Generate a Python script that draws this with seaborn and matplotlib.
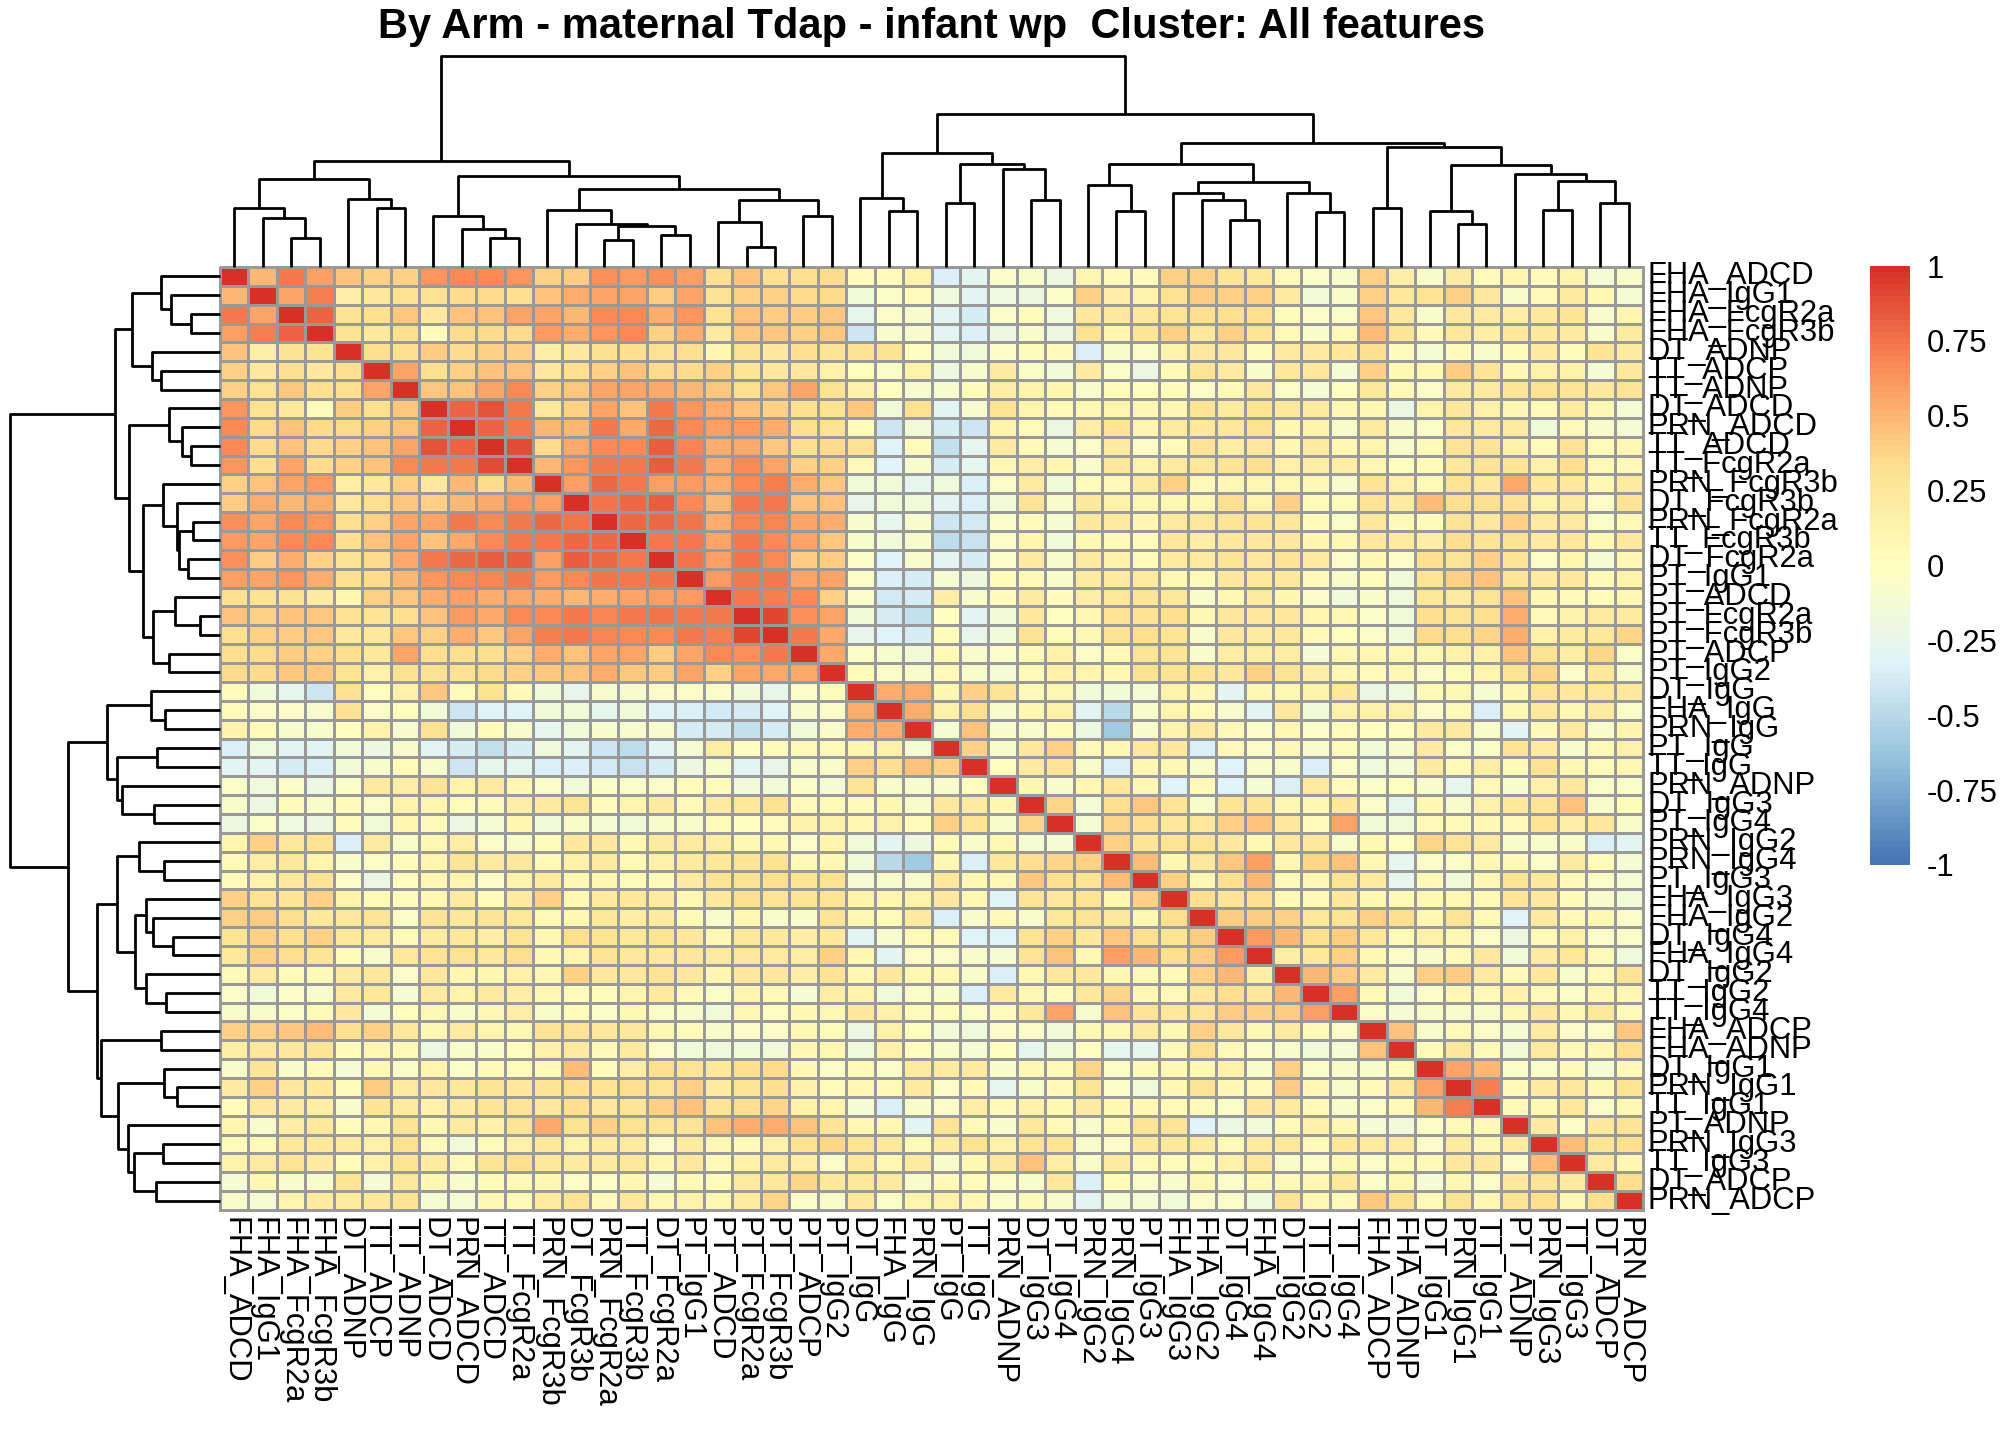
import numpy as np
import pandas as pd
import matplotlib
matplotlib.use('Agg')
import matplotlib.pyplot as plt
import seaborn as sns
from matplotlib.colors import LinearSegmentedColormap

# Features in clustered order (rows and columns share the same order)
features = ['FHA_ADCD', 'FHA_IgG1', 'FHA_FcgR2a', 'FHA_FcgR3b', 'DT_ADNP', 'TT_ADCP', 'TT_ADNP',
            'DT_ADCD', 'PRN_ADCD', 'TT_ADCD', 'TT_FcgR2a', 'PRN_FcgR3b', 'DT_FcgR3b', 'PRN_FcgR2a',
            'TT_FcgR3b', 'DT_FcgR2a', 'PT_IgG1', 'PT_ADCD', 'PT_FcgR2a', 'PT_FcgR3b', 'PT_ADCP',
            'PT_IgG2', 'DT_IgG', 'FHA_IgG', 'PRN_IgG', 'PT_IgG', 'TT_IgG', 'PRN_ADNP', 'DT_IgG3',
            'PT_IgG4', 'PRN_IgG2', 'PRN_IgG4', 'PT_IgG3', 'FHA_IgG3', 'FHA_IgG2', 'DT_IgG4',
            'FHA_IgG4', 'DT_IgG2', 'TT_IgG2', 'TT_IgG4', 'FHA_ADCP', 'FHA_ADNP', 'DT_IgG1',
            'PRN_IgG1', 'TT_IgG1', 'PT_ADNP', 'PRN_IgG3', 'TT_IgG3', 'DT_ADCP', 'PRN_ADCP']

# Lower triangle of the correlation matrix (row i holds columns 1..i-1)
corr_lower = [
    [0.48],
    [0.72, 0.57],
    [0.58, 0.70, 0.82],
    [0.45, 0.18, 0.30, 0.30],
    [0.38, 0.22, 0.32, 0.22, 0.32],
    [0.38, 0.30, 0.42, 0.32, 0.32, 0.57],
    [0.62, 0.30, 0.22, 0.02, 0.40, 0.32, 0.42],
    [0.66, 0.34, 0.45, 0.34, 0.34, 0.38, 0.45, 0.80],
    [0.66, 0.34, 0.45, 0.34, 0.38, 0.45, 0.57, 0.86, 0.80],
    [0.62, 0.32, 0.57, 0.35, 0.38, 0.45, 0.66, 0.72, 0.72, 0.88],
    [0.38, 0.45, 0.56, 0.60, 0.18, 0.22, 0.38, 0.22, 0.48, 0.35, 0.48],
    [0.40, 0.53, 0.48, 0.53, 0.22, 0.32, 0.42, 0.38, 0.48, 0.55, 0.62, 0.58],
    [0.64, 0.57, 0.66, 0.62, 0.32, 0.38, 0.57, 0.57, 0.72, 0.66, 0.72, 0.79, 0.75],
    [0.60, 0.57, 0.66, 0.66, 0.32, 0.45, 0.57, 0.45, 0.55, 0.66, 0.72, 0.72, 0.79, 0.79],
    [0.64, 0.40, 0.53, 0.38, 0.30, 0.35, 0.55, 0.72, 0.79, 0.83, 0.83, 0.58, 0.83, 0.79, 0.72],
    [0.58, 0.56, 0.62, 0.53, 0.32, 0.35, 0.48, 0.63, 0.66, 0.68, 0.72, 0.60, 0.66, 0.74, 0.72, 0.74],
    [0.32, 0.30, 0.30, 0.20, 0.08, 0.38, 0.42, 0.53, 0.58, 0.53, 0.55, 0.53, 0.48, 0.53, 0.56, 0.58, 0.60],
    [0.45, 0.38, 0.45, 0.42, 0.30, 0.28, 0.32, 0.45, 0.60, 0.55, 0.66, 0.66, 0.72, 0.68, 0.72, 0.74, 0.72,
     0.72],
    [0.33, 0.38, 0.40, 0.42, 0.22, 0.22, 0.42, 0.38, 0.53, 0.42, 0.56, 0.70, 0.72, 0.68, 0.66, 0.66, 0.72,
     0.70, 0.90],
    [0.33, 0.35, 0.40, 0.38, 0.33, 0.22, 0.57, 0.33, 0.33, 0.33, 0.38, 0.53, 0.45, 0.57, 0.57, 0.40, 0.57,
     0.66, 0.64, 0.72],
    [0.35, 0.35, 0.42, 0.42, 0.28, 0.15, 0.30, 0.30, 0.30, 0.35, 0.38, 0.42, 0.45, 0.53, 0.42, 0.40, 0.57,
     0.38, 0.56, 0.55, 0.55],
    [0.02, -0.15, -0.28, -0.42, 0.30, 0.00, 0.15, 0.42, 0.03, 0.30, 0.05, -0.15, -0.25, -0.10, -0.10, -0.05,
     -0.05, -0.05, -0.15, -0.25, -0.05, 0.02],
    [0.02, -0.05, -0.05, -0.10, 0.30, -0.05, 0.00, -0.15, -0.42, -0.33, -0.33, -0.15, -0.15, -0.28, -0.15,
     -0.33, -0.36, -0.40, -0.38, -0.33, -0.10, -0.05, 0.53],
    [0.12, 0.02, -0.10, -0.10, 0.00, 0.12, -0.10, 0.30, -0.15, 0.02, -0.10, -0.28, -0.15, -0.10, -0.10,
     -0.10, -0.38, -0.38, -0.45, -0.38, -0.15, -0.08, 0.53, 0.53],
    [-0.35, -0.18, -0.30, -0.30, -0.15, -0.20, -0.10, -0.30, -0.38, -0.45, -0.38, -0.18, -0.30, -0.42, -0.48,
     -0.30, -0.12, 0.18, 0.00, 0.02, 0.04, 0.05, 0.08, 0.15, -0.12],
    [-0.30, -0.30, -0.38, -0.36, -0.15, -0.10, 0.02, -0.10, -0.42, -0.27, -0.27, -0.36, -0.36, -0.40, -0.44,
     -0.38, -0.20, -0.08, -0.30, -0.25, -0.08, -0.08, 0.38, 0.33, 0.45,
     0.38],
    [-0.05, -0.18, -0.05, -0.22, -0.05, 0.20, 0.18, 0.28, 0.12, 0.20, 0.06, -0.05, -0.15, -0.05, -0.05,
     -0.05, 0.02, 0.02, -0.15, -0.15, -0.05, -0.12, 0.28, -0.08, -0.10,
     -0.08, 0.00],
    [-0.08, -0.22, 0.02, -0.08, 0.02, -0.05, 0.12, 0.10, 0.03, 0.05, 0.18, 0.20, 0.28, 0.02, 0.10,
     0.20, 0.05, 0.20, 0.25, 0.30, 0.05, 0.05, 0.05, 0.08, -0.08,
     0.22, 0.20, 0.08],
    [-0.22, -0.05, -0.18, -0.22, 0.02, -0.15, 0.08, 0.05, -0.22, -0.12, 0.08, -0.15, -0.08, -0.12, -0.15,
     -0.08, -0.08, 0.02, 0.00, 0.02, 0.15, 0.15, 0.06, 0.15, 0.03,
     0.38, 0.28, -0.08, 0.36],
    [0.10, 0.38, 0.25, 0.30, -0.36, 0.20, -0.08, 0.06, 0.18, -0.05, -0.08, 0.03, 0.22, 0.22, 0.06,
     0.20, 0.20, 0.18, 0.06, 0.06, -0.05, 0.10, -0.15, -0.30, -0.20,
     0.04, -0.08, 0.06, -0.12, -0.12],
    [0.05, 0.18, 0.22, 0.10, -0.08, -0.05, 0.02, 0.10, 0.28, 0.20, 0.25, 0.05, 0.15, 0.20, 0.05,
     0.15, 0.20, 0.25, 0.28, 0.30, 0.05, 0.06, -0.15, -0.50, -0.60,
     0.06, -0.36, 0.25, 0.32, 0.36, 0.38],
    [0.03, 0.12, 0.22, 0.28, -0.05, -0.22, 0.00, 0.06, 0.10, -0.05, 0.12, 0.20, 0.06, 0.08, 0.03,
     0.02, 0.20, 0.28, 0.30, 0.32, 0.28, 0.30, -0.12, -0.08, -0.08,
     0.25, 0.06, 0.06, 0.42, 0.32, 0.28, 0.46],
    [0.38, 0.30, 0.28, 0.38, 0.12, 0.05, 0.02, 0.06, 0.20, 0.03, 0.20, 0.38, 0.06, 0.20, 0.25,
     0.20, 0.06, 0.25, 0.32, 0.28, 0.28, 0.28, 0.12, 0.10, 0.12,
     0.22, 0.06, -0.33, 0.28, 0.22, 0.28, 0.08, 0.38],
    [0.38, 0.40, 0.32, 0.25, 0.22, 0.28, -0.05, 0.28, 0.25, 0.28, 0.25, 0.05, 0.06, 0.25, 0.18,
     0.20, 0.05, -0.08, 0.06, -0.08, -0.08, 0.28, 0.06, 0.03, 0.20,
     -0.36, -0.08, 0.05, -0.08, 0.25, 0.28, 0.22, 0.06, 0.32],
    [0.28, 0.38, 0.32, 0.38, 0.22, 0.20, 0.05, 0.20, 0.25, 0.18, 0.28, 0.06, 0.32, 0.28, 0.25,
     0.28, 0.22, 0.06, 0.22, 0.22, 0.18, 0.22, -0.30, -0.10, 0.05,
     0.05, -0.33, -0.33, 0.28, 0.38, 0.22, 0.42, 0.32, 0.28, 0.40],
    [0.25, 0.38, 0.32, 0.28, 0.02, -0.08, 0.22, 0.28, 0.30, 0.22, 0.32, 0.06, 0.10, 0.28, 0.22,
     0.22, 0.25, 0.20, 0.22, 0.20, 0.18, 0.38, 0.06, -0.30, -0.05,
     -0.05, -0.08, -0.12, 0.28, 0.45, 0.06, 0.58, 0.48, 0.32, 0.40, 0.60],
    [0.05, 0.20, 0.03, 0.05, 0.20, 0.25, -0.05, 0.25, 0.08, 0.08, 0.15, 0.06, 0.38, 0.25, 0.22,
     0.28, 0.22, 0.08, 0.25, 0.25, 0.18, 0.28, 0.06, 0.22, 0.06,
     0.06, -0.08, -0.36, 0.06, 0.22, 0.22, 0.06, 0.05, 0.05, 0.38, 0.48, 0.18],
    [-0.05, -0.15, -0.05, -0.08, 0.20, 0.25, -0.12, 0.20, 0.12, 0.20, 0.18, 0.06, 0.02, 0.03, 0.10,
     0.20, 0.05, -0.05, 0.10, 0.05, -0.12, 0.18, 0.12, -0.15, -0.05,
     -0.08, -0.36, 0.20, 0.06, 0.03, 0.25, 0.36, 0.06, 0.05, 0.25, 0.32, 0.25, 0.48],
    [-0.08, -0.08, -0.05, 0.05, 0.25, -0.12, 0.00, 0.06, -0.08, 0.06, 0.18, -0.08, 0.03, -0.05, 0.06,
     -0.05, -0.08, -0.15, 0.06, 0.00, 0.06, 0.06, 0.25, 0.15, 0.03,
     0.03, -0.05, 0.03, 0.25, 0.56, -0.08, 0.45, 0.28, 0.25, 0.28, 0.40, 0.38, 0.40, 0.58],
    [0.38, 0.38, 0.42, 0.46, 0.32, 0.38, 0.25, 0.06, 0.20, 0.10, 0.06, 0.28, 0.28, 0.25, 0.22,
     0.06, 0.02, -0.08, -0.05, -0.05, 0.06, 0.03, -0.22, 0.15, 0.00,
     -0.15, -0.18, -0.05, -0.05, -0.15, 0.06, 0.06, 0.20, 0.06, 0.38, 0.25, 0.06, 0.20, 0.05, -0.05],
    [0.18, 0.25, 0.22, 0.28, 0.03, 0.06, 0.04, -0.22, -0.08, -0.08, 0.00, 0.15, 0.20, 0.04, 0.20,
     -0.05, -0.15, -0.18, -0.15, -0.15, 0.06, 0.06, -0.18, 0.15, 0.00,
     -0.08, -0.12, 0.00, -0.28, -0.15, 0.00, -0.28, -0.28, 0.05, 0.32, 0.04, -0.05, -0.08, -0.15, -0.12,
     0.45],
    [-0.08, 0.28, -0.08, 0.04, -0.12, 0.06, -0.05, 0.10, -0.05, 0.05, 0.02, 0.05, 0.47, 0.03, 0.18,
     0.32, 0.28, 0.25, 0.32, 0.35, 0.06, -0.05, 0.05, -0.05, 0.20,
     0.20, 0.20, -0.08, 0.06, 0.05, 0.36, -0.05, 0.05, 0.06, 0.06, 0.15, -0.08, 0.38, -0.05, -0.08,
     -0.08, 0.02],
    [0.20, 0.38, 0.22, 0.25, 0.03, 0.40, 0.20, 0.22, 0.25, 0.28, 0.25, 0.28, 0.32, 0.28, 0.32,
     0.28, 0.38, 0.20, 0.28, 0.32, 0.15, 0.03, 0.06, 0.05, 0.20,
     -0.05, 0.05, -0.28, -0.08, 0.05, 0.28, -0.05, -0.15, 0.06, 0.28, 0.06, 0.04, 0.40, 0.06, -0.08,
     0.05, 0.25, 0.57],
    [0.03, 0.22, 0.20, 0.18, -0.08, 0.28, 0.20, 0.15, 0.20, 0.28, 0.28, 0.22, 0.32, 0.22, 0.28,
     0.38, 0.45, 0.28, 0.32, 0.36, 0.15, 0.10, -0.12, -0.36, -0.08,
     -0.05, 0.18, 0.05, 0.15, 0.06, 0.20, 0.06, 0.06, 0.04, 0.04, -0.05, 0.22, 0.20, 0.05, -0.08,
     -0.05, 0.05, 0.48, 0.70],
    [0.10, -0.08, 0.18, 0.25, 0.03, 0.06, 0.28, 0.06, 0.20, 0.15, 0.28, 0.55, 0.30, 0.38, 0.30,
     0.28, 0.28, 0.45, 0.52, 0.52, 0.45, 0.28, 0.06, 0.06, -0.30,
     0.28, 0.05, -0.08, 0.25, 0.04, -0.08, 0.04, 0.28, 0.28, -0.33, -0.22, -0.15, 0.05, 0.15, 0.06,
     -0.12, -0.15, -0.05, 0.05, 0.04],
    [0.03, 0.04, 0.25, 0.25, 0.20, 0.15, 0.30, 0.04, -0.15, 0.03, 0.15, 0.25, 0.12, 0.20, 0.20,
     -0.05, 0.20, 0.06, 0.05, 0.15, 0.30, 0.36, 0.28, 0.25, 0.05,
     0.20, 0.30, 0.15, 0.28, 0.28, -0.08, -0.05, 0.22, 0.22, 0.20, 0.04, 0.20, 0.25, 0.04, 0.25,
     0.20, 0.20, -0.05, 0.20, 0.06, 0.20],
    [0.12, 0.20, 0.28, 0.20, 0.03, 0.15, 0.28, 0.20, 0.05, 0.28, 0.32, 0.25, 0.20, 0.20, 0.25,
     0.10, 0.22, 0.04, 0.15, 0.20, 0.18, -0.05, 0.25, 0.06, 0.20,
     -0.08, 0.06, 0.22, 0.45, 0.18, -0.08, 0.20, 0.04, 0.03, 0.04, 0.15, 0.25, -0.08, -0.05, 0.06,
     -0.05, 0.05, 0.05, 0.22, 0.22, -0.05, 0.47],
    [-0.12, 0.06, -0.08, -0.08, 0.28, -0.12, 0.22, 0.06, -0.08, 0.03, 0.04, 0.06, -0.05, -0.05, 0.06,
     -0.12, 0.05, 0.02, 0.20, 0.25, 0.36, 0.25, 0.25, 0.20, -0.08,
     0.05, 0.03, -0.05, -0.08, 0.22, -0.36, 0.02, -0.05, -0.08, 0.06, -0.05, 0.04, 0.04, 0.06, 0.25,
     -0.05, 0.06, -0.12, 0.06, -0.05, 0.22, 0.28, 0.20],
    [-0.08, -0.12, 0.10, 0.20, 0.20, 0.22, 0.28, -0.12, -0.12, 0.06, 0.04, 0.20, 0.28, 0.04, 0.22,
     0.06, 0.12, 0.06, 0.20, 0.36, -0.05, -0.08, 0.22, -0.05, 0.10,
     0.15, 0.06, -0.05, 0.03, -0.08, -0.30, -0.12, -0.12, -0.15, -0.05, -0.05, -0.18, 0.28, 0.06, 0.04,
     0.42, 0.32, 0.05, 0.28, 0.06, 0.28, 0.32, 0.06, 0.32],
]

# Dendrogram merges: (first leaf, last leaf of left child, last leaf, height), 1-based leaf positions
dendro_merges = [
    (3, 3, 4, 88), (2, 2, 4, 148), (1, 1, 4, 178), (6, 6, 7, 178), (5, 5, 7, 205), (1, 4, 7, 265),
    (10, 10, 11, 86), (9, 9, 11, 115), (8, 8, 11, 152),
    (14, 14, 15, 80), (16, 16, 17, 97), (14, 15, 17, 123), (13, 13, 17, 128), (12, 12, 17, 172),
    (19, 19, 20, 59), (18, 18, 20, 135), (21, 21, 22, 152), (18, 20, 22, 202),
    (12, 17, 22, 233), (8, 11, 22, 273), (1, 7, 22, 317),
    (24, 24, 25, 167), (23, 23, 25, 208), (26, 26, 27, 191), (29, 29, 30, 200), (28, 28, 30, 295),
    (26, 27, 30, 310), (23, 25, 30, 340),
    (32, 32, 33, 169), (31, 31, 33, 245), (36, 36, 37, 142), (35, 35, 37, 202), (34, 34, 37, 223),
    (39, 39, 40, 164), (38, 38, 40, 223), (34, 37, 40, 255), (31, 33, 40, 310),
    (41, 41, 42, 178), (44, 44, 45, 130), (43, 43, 45, 169), (47, 47, 48, 172), (49, 49, 50, 193),
    (47, 48, 50, 259), (46, 46, 50, 278), (43, 45, 50, 307), (41, 42, 50, 359),
    (31, 40, 50, 370), (23, 30, 50, 457), (1, 22, 50, 632),
]

legend_ticks = [-1, -0.75, -0.5, -0.25, 0, 0.25, 0.5, 0.75, 1]
legend_labels = ['-1', '-0.75', '-0.5', '-0.25', '0', '0.25', '0.5', '0.75', '1']
ramp_colors = ['#4575B4', '#91BFDB', '#E0F3F8', '#FFFFBF', '#FEE090', '#FC8D59', '#D73027']
title = 'By Arm - maternal Tdap - infant wp  Cluster: All features'

# Build symmetric matrix
n = len(features)
corr = np.eye(n)
for i, row in enumerate(corr_lower, start=1):
    assert len(row) == i, (i, len(row))
    corr[i, :i] = row
    corr[:i, i] = row
df = pd.DataFrame(corr, index=features, columns=features)

sns.set_style('white', rc={'text.color': 'black', 'xtick.color': 'black', 'ytick.color': 'black'})
plt.rcParams['font.family'] = ['Liberation Sans', 'DejaVu Sans']

W, H = 2016, 1440
fig = plt.figure(figsize=(W / 100, H / 100), dpi=100)


def box(x0, y0, x1, y1):
    return [x0 / W, 1 - y1 / H, (x1 - x0) / W, (y1 - y0) / H]


ax = fig.add_axes(box(220, 267, 1643, 1210))
ax_top = fig.add_axes(box(220, 56, 1643, 267))
ax_left = fig.add_axes(box(10, 267, 220, 1210))
cax = fig.add_axes(box(1870, 266, 1910, 865))

cmap = LinearSegmentedColormap.from_list('rdylbu_rev', ramp_colors, N=100)
sns.heatmap(df, ax=ax, cmap=cmap, vmin=-1, vmax=1, linewidths=2.0, linecolor='#999999',
            xticklabels=True, yticklabels=True, cbar_ax=cax, cbar_kws={'ticks': legend_ticks})
ax.collections[0].set_clip_on(False)
ax.set_xlabel('')
ax.set_ylabel('')
ax.tick_params(axis='y', left=False, right=True, labelleft=False, labelright=True,
               length=0, pad=3, labelsize=22.3, labelcolor='black')
ax.tick_params(axis='x', length=0, pad=5, labelsize=22.3, labelcolor='black')
plt.setp(ax.get_yticklabels(), rotation=0, ha='left', va='center')
plt.setp(ax.get_xticklabels(), rotation=270, ha='center', va='top')

# Colour legend
cb = ax.collections[0].colorbar
cb.outline.set_visible(False)
cb.set_ticks(legend_ticks, labels=legend_labels)
cax.tick_params(length=0, labelsize=22.3, pad=12, labelcolor='black')


def draw_dendro(axis, merges, orient):
    nodes = {}
    for lo, split, hi, h in merges:
        kids = []
        for a, b in ((lo, split), (split + 1, hi)):
            kids.append((a - 0.5, 0.0) if a == b else nodes[(a, b)])
        (c1, h1), (c2, h2) = kids
        pos = [c1, c1, c2, c2]
        hts = [h1, h, h, h2]
        if orient == 'top':
            axis.plot(pos, hts, color='black', lw=2.0, clip_on=False, solid_capstyle='butt')
        else:
            axis.plot(hts, pos, color='black', lw=2.0, clip_on=False, solid_capstyle='butt')
        nodes[(lo, hi)] = ((c1 + c2) / 2, h)


root_h = max(m[3] for m in dendro_merges)
draw_dendro(ax_top, dendro_merges, 'top')
ax_top.set_xlim(0, n)
ax_top.set_ylim(0, root_h)
ax_top.axis('off')

draw_dendro(ax_left, dendro_merges, 'left')
ax_left.set_xlim(root_h, 0)
ax_left.set_ylim(n, 0)
ax_left.axis('off')

fig.text((220 + 1643) / 2 / W, 1 - 38 / H, title, ha='center', va='baseline',
         fontsize=30, fontweight='bold', color='black')

fig.savefig('out.png', dpi=100)
